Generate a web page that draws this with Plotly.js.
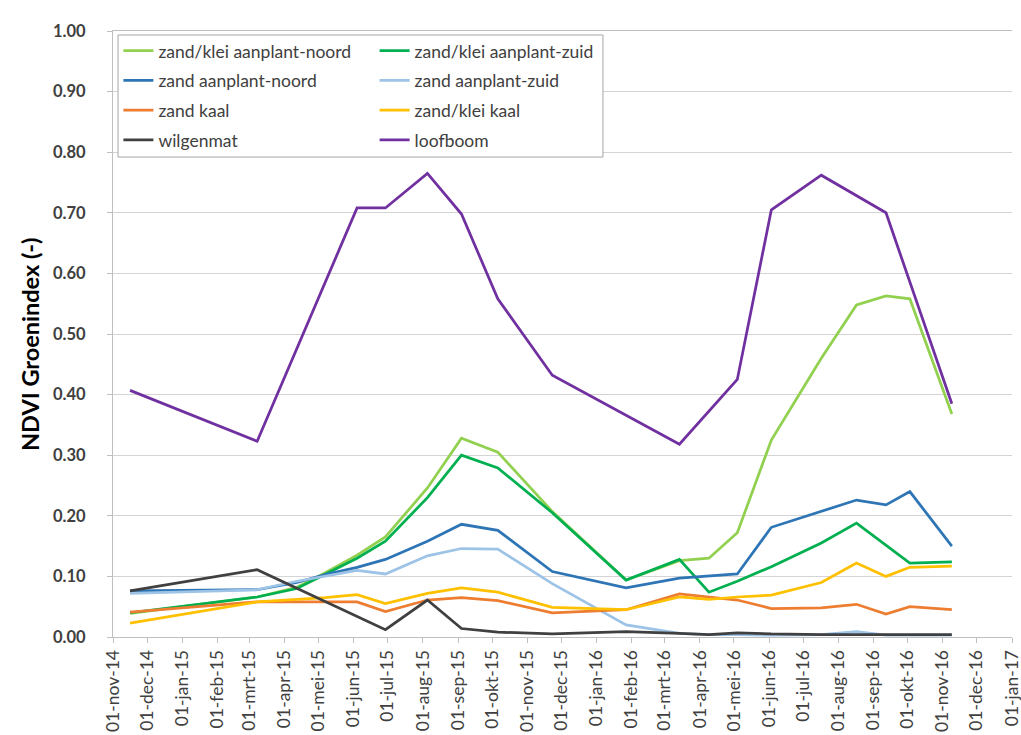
<!DOCTYPE html>
<html>
<head>
<meta charset="utf-8">
<script src="https://cdn.plot.ly/plotly-3.0.1.min.js"></script>
<style>html,body{margin:0;padding:0;background:#fff}#chart{width:1021px;height:735px}</style>
</head>
<body>
<div id="chart"></div>
<script>
// Observation dates
const dates = ['2014-11-16','2015-03-08','2015-04-12','2015-05-07','2015-06-04','2015-06-29','2015-08-05','2015-09-04','2015-10-06','2015-11-23','2016-01-27','2016-03-14','2016-04-09','2016-05-04','2016-06-03','2016-07-17','2016-08-17','2016-09-12','2016-10-03','2016-11-09'];

// Series values (NDVI)
const zandKleiAanplantNoord = [0.039,0.066,0.082,0.106,0.135,0.165,0.246,0.328,0.305,0.207,0.094,0.126,0.130,0.172,0.325,0.460,0.548,0.563,0.558,0.368];
const zandKleiAanplantZuid  = [0.040,0.066,0.080,0.103,0.130,0.158,0.230,0.300,0.279,0.205,0.094,0.128,0.074,0.092,0.116,0.155,0.188,null,0.122,0.124];
const zandAanplantNoord     = [0.076,0.078,0.090,0.103,0.115,0.128,0.158,0.186,0.176,0.108,0.081,0.097,null,0.104,0.181,null,0.226,0.218,0.240,0.150];
const zandAanplantZuid      = [0.072,0.078,0.092,0.100,0.110,0.104,0.134,0.146,0.145,0.088,0.020,0.006,0.004,0.004,0.003,0.004,0.009,0.003,0.003,0.003];
const zandKaal              = [0.041,0.058,0.058,0.058,0.058,0.042,0.061,0.065,0.060,0.040,0.045,0.071,0.066,0.061,0.047,0.048,0.054,0.038,0.050,0.045];
const zandKleiKaal          = [0.023,0.058,0.062,0.065,0.070,0.055,0.072,0.081,0.074,0.049,0.045,0.066,0.062,0.066,0.069,0.090,0.122,0.100,0.115,0.117];
const wilgenmat             = [0.076,0.111,null,null,null,0.012,0.061,0.014,0.008,0.005,0.009,0.006,0.004,0.007,0.005,0.004,0.004,0.004,0.004,0.004];
const loofboom              = [0.407,0.323,null,null,0.708,0.708,0.765,0.698,0.558,0.432,null,0.318,null,0.425,0.705,0.762,null,0.700,null,0.385];

const seriesNames = ['zand/klei aanplant-noord','zand/klei aanplant-zuid','zand aanplant-noord','zand aanplant-zuid','zand kaal','zand/klei kaal','wilgenmat','loofboom'];

// X tick labels
const tickDates = ['2014-11-01','2014-12-01','2015-01-01','2015-02-01','2015-03-01','2015-04-01','2015-05-01','2015-06-01','2015-07-01','2015-08-01','2015-09-01','2015-10-01','2015-11-01','2015-12-01','2016-01-01','2016-02-01','2016-03-01','2016-04-01','2016-05-01','2016-06-01','2016-07-01','2016-08-01','2016-09-01','2016-10-01','2016-11-01','2016-12-01','2017-01-01'];
const tickLabels = ['01-nov-14','01-dec-14','01-jan-15','01-feb-15','01-mrt-15','01-apr-15','01-mei-15','01-jun-15','01-jul-15','01-aug-15','01-sep-15','01-okt-15','01-nov-15','01-dec-15','01-jan-16','01-feb-16','01-mrt-16','01-apr-16','01-mei-16','01-jun-16','01-jul-16','01-aug-16','01-sep-16','01-okt-16','01-nov-16','01-dec-16','01-jan-17'];

const yTitle = 'NDVI Groenindex (-)';

const values = [zandKleiAanplantNoord, zandKleiAanplantZuid, zandAanplantNoord, zandAanplantZuid, zandKaal, zandKleiKaal, wilgenmat, loofboom];
const colors = ['#92d050','#00b050','#2e75b6','#9dc3e6','#ed7d31','#ffc000','#404040','#7030a0'];

const traces = values.map((v, i) => ({
  type: 'scatter',
  mode: 'lines',
  x: dates,
  y: v,
  name: seriesNames[i],
  connectgaps: true,
  line: {color: colors[i], width: 2.75},
  legend: (i % 2 === 0) ? 'legend' : 'legend2',
  legendgroup: 'g' + i
}));

const FONT = 'Lato, sans-serif';

const legendCommon = {
  bgcolor: 'rgba(0,0,0,0)',
  borderwidth: 0,
  font: {family: FONT, size: 17.5, color: '#404040'},
  tracegroupgap: 4,
  traceorder: 'grouped',
  xanchor: 'left',
  yanchor: 'top'
};

const layout = {
  width: 1021,
  height: 735,
  margin: {l: 113, r: 9, t: 31, b: 98},
  paper_bgcolor: '#ffffff',
  plot_bgcolor: '#ffffff',
  showlegend: true,
  font: {family: FONT, color: '#404040'},
  xaxis: {
    type: 'date',
    range: ['2014-11-01', '2017-01-01'],
    tickvals: tickDates,
    ticktext: tickLabels,
    tickangle: -90,
    tickfont: {family: FONT, size: 17.5, color: '#404040'},
    ticklabeloverflow: 'allow',
    ticks: 'outside',
    ticklen: 5,
    tickcolor: '#bfbfbf',
    showgrid: false,
    showline: true,
    linecolor: '#bfbfbf',
    linewidth: 1,
    mirror: true,
    zeroline: false
  },
  yaxis: {
    range: [0, 1],
    dtick: 0.1,
    tick0: 0,
    tickformat: '.2f',
    tickfont: {family: FONT, size: 16.5, color: '#404040', weight: 'bold'},
    ticks: 'outside',
    ticklen: 5,
    tickcolor: '#bfbfbf',
    ticklabelstandoff: 18,
    showgrid: true,
    gridcolor: '#d4d4d4',
    gridwidth: 1,
    showline: true,
    linecolor: '#bfbfbf',
    linewidth: 1,
    zeroline: false
  },
  annotations: [{
    text: yTitle,
    xref: 'paper', yref: 'paper',
    x: -0.0923, y: 0.4835,
    xanchor: 'center', yanchor: 'middle',
    textangle: -90,
    showarrow: false,
    font: {family: FONT, size: 23.5, color: '#000000', weight: 'bold'}
  }],
  legend: Object.assign({}, legendCommon, {x: 0.006, y: 0.997}),
  legend2: Object.assign({}, legendCommon, {x: 0.291, y: 0.997}),
  shapes: [{
    type: 'rect', xref: 'paper', yref: 'paper',
    x0: 0.0056, x1: 0.545, y0: 0.792, y1: 0.9934,
    line: {color: '#a6a6a6', width: 1},
    fillcolor: '#ffffff',
    layer: 'above'
  }]
};

Plotly.newPlot('chart', traces, layout, {displayModeBar: false, staticPlot: true});
</script>
</body>
</html>
